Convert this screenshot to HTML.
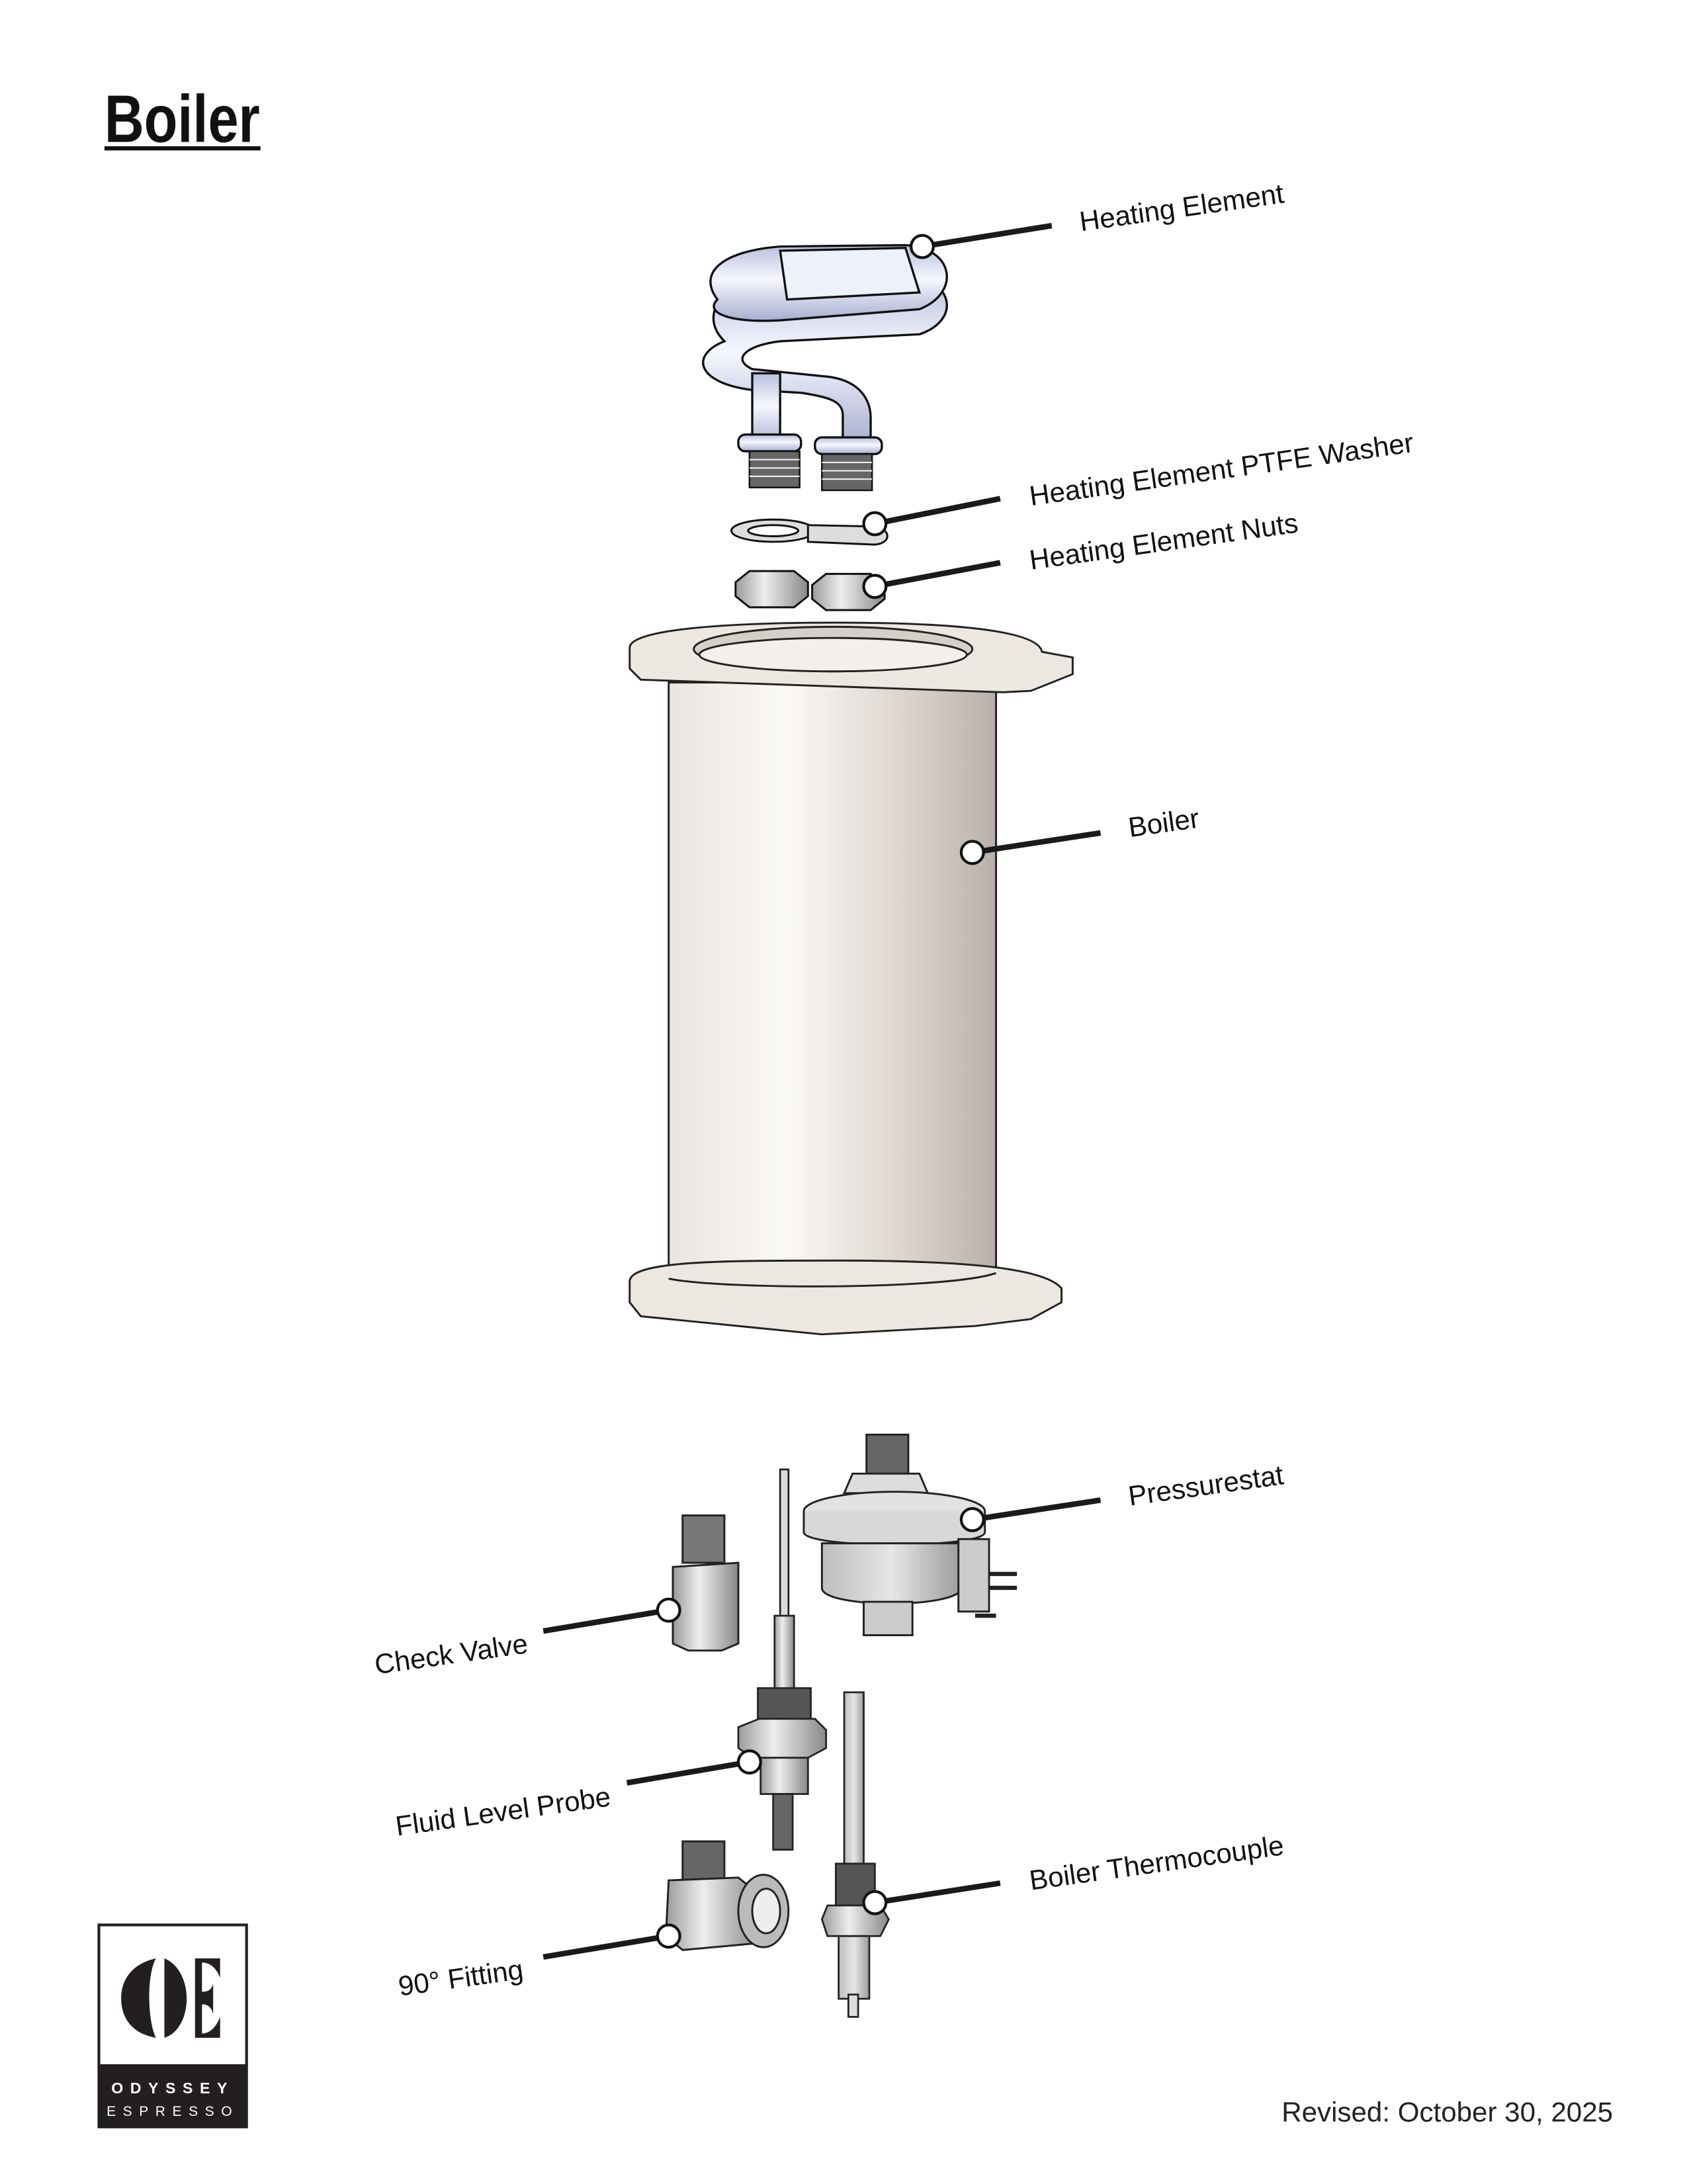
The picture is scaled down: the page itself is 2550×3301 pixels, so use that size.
<!DOCTYPE html>
<html><head><meta charset="utf-8"><style>
html,body{margin:0;padding:0;background:#fff}
svg{display:block}
text{font-family:"Liberation Sans",sans-serif}
</style></head><body>
<svg width="2550" height="3301" viewBox="0 0 1211 1568" preserveAspectRatio="none" xmlns="http://www.w3.org/2000/svg">
<defs>
<linearGradient id="cyl" x1="0" x2="1" y1="0" y2="0">
<stop offset="0" stop-color="#e9e4de"/><stop offset="0.35" stop-color="#fbf9f6"/><stop offset="0.7" stop-color="#ddd7d0"/><stop offset="1" stop-color="#b9b1a9"/></linearGradient>
<linearGradient id="tube" x1="0" x2="0" y1="0" y2="1">
<stop offset="0" stop-color="#b9bfdc"/><stop offset="0.45" stop-color="#f6f7ff"/><stop offset="1" stop-color="#a8aed0"/></linearGradient>
<linearGradient id="met" x1="0" x2="1" y1="0" y2="0">
<stop offset="0" stop-color="#9a9a9a"/><stop offset="0.4" stop-color="#eeeeee"/><stop offset="1" stop-color="#888"/></linearGradient>
<linearGradient id="grey" x1="0" x2="1">
<stop offset="0" stop-color="#bdbdbd"/><stop offset="0.5" stop-color="#e6e6e6"/><stop offset="1" stop-color="#9c9c9c"/></linearGradient>
</defs>

<text x="75" y="102" font-size="48" font-weight="bold" transform="translate(75 0) scale(0.82 1) translate(-75 0)" fill="#111">Boiler</text>
<rect x="75" y="105" width="112" height="3" fill="#111"/>

<g stroke="#111" stroke-width="1.6" fill="url(#tube)">
<path d="M520 245 C500 225 520 200 560 198 L650 198 C685 200 690 230 660 240 L560 245 C535 248 525 258 540 265 L590 270 C620 272 625 290 625 300 L625 320 L605 320 L605 298 C605 288 595 285 575 282 L540 280 C500 275 495 255 520 245 Z"/>
<path d="M515 215 C500 195 520 180 560 177 L650 176 C685 178 690 210 660 222 L560 230 C525 232 505 225 515 215 Z"/>
<path d="M560 180 L650 178 L660 210 L565 215 Z" fill="#eef0fb"/>
<rect x="540" y="268" width="20" height="52"/>
<rect x="530" y="312" width="45" height="12" rx="5"/>
<rect x="585" y="314" width="48" height="12" rx="5"/>
</g>
<g stroke="#111" stroke-width="1.2" fill="#666">
<rect x="538" y="324" width="36" height="26"/>
<rect x="590" y="326" width="36" height="26"/>
</g>
<g stroke="#eee" stroke-width="1">
<path d="M538 330h36M538 336h36M538 342h36M590 332h36M590 338h36M590 344h36"/>
</g>

<g stroke="#111" stroke-width="1.4" fill="#ddd">
<ellipse cx="555" cy="381" rx="30" ry="8"/>
<path d="M580 377 L628 378 C640 380 640 390 628 391 L580 389 Z"/>
<ellipse cx="555" cy="381" rx="18" ry="4" fill="#fff"/>
</g>
<g stroke="#111" stroke-width="1.4" fill="url(#met)">
<path d="M528 418 L538 410 L570 410 L580 418 L580 428 L570 436 L538 436 L528 428 Z"/>
<path d="M583 420 L593 412 L625 412 L635 420 L635 430 L625 438 L593 438 L583 430 Z"/>
</g>

<g stroke="#222" stroke-width="1.4">
<rect x="480" y="490" width="235" height="440" fill="url(#cyl)"/>
<path d="M452 465 C452 452 520 447 600 447 C680 447 745 452 748 468 L770 472 L770 484 L740 496 L720 497 L460 488 L452 480 Z" fill="#ece7e1"/>
<ellipse cx="598" cy="466" rx="100" ry="16" fill="#d5cfc8"/>
<ellipse cx="598" cy="470" rx="96" ry="12" fill="#f3f0ec"/>
<path d="M452 920 C452 905 520 905 600 905 C690 905 750 910 762 925 L762 935 L740 947 L700 952 L590 958 L460 945 L452 935 Z" fill="#ece7e1"/>
<path d="M480 918 C520 926 680 926 715 914" fill="none"/>
</g>

<g stroke="#222" stroke-width="1.4">
<rect x="622" y="1030" width="30" height="28" fill="#666"/>
<path d="M612 1058 L660 1058 L666 1072 L606 1072 Z" fill="#ddd"/>
<ellipse cx="642" cy="1085" rx="65" ry="14" fill="#e2e2e2"/>
<path d="M577 1085 L577 1100 C577 1112 707 1112 707 1100 L707 1085" fill="#d8d8d8"/>
<path d="M590 1108 L590 1140 C590 1155 690 1155 690 1140 L690 1108 Z" fill="url(#grey)"/>
<rect x="620" y="1150" width="35" height="24" fill="#ccc"/>
<rect x="688" y="1105" width="22" height="52" fill="#ccc"/>
<path d="M710 1130h20M710 1140h20M700 1160h15" stroke-width="3"/>
</g>

<g stroke="#222" stroke-width="1.4">
<rect x="490" y="1088" width="30" height="34" fill="#777"/>
<path d="M483 1125 L530 1122 L530 1180 L518 1185 L494 1185 L483 1180 Z" fill="url(#met)"/>
</g>

<g stroke="#222" stroke-width="1.3">
<rect x="560" y="1055" width="6" height="110" fill="#ddd"/>
<rect x="556" y="1160" width="14" height="55" fill="url(#met)"/>
<rect x="544" y="1212" width="38" height="26" fill="#555"/>
<path d="M530 1240 L545 1234 L585 1234 L593 1242 L593 1255 L580 1262 L540 1262 L530 1255 Z" fill="url(#met)"/>
<rect x="546" y="1262" width="34" height="26" fill="url(#met)"/>
<rect x="555" y="1288" width="14" height="40" fill="#666"/>
</g>

<g stroke="#222" stroke-width="1.4">
<rect x="490" y="1322" width="30" height="28" fill="#666"/>
<path d="M480 1350 L530 1348 L545 1360 L545 1395 L490 1400 L478 1390 Z" fill="url(#met)"/>
<ellipse cx="548" cy="1372" rx="18" ry="26" fill="#bbb"/>
<ellipse cx="550" cy="1372" rx="10" ry="16" fill="#eee"/>
</g>

<g stroke="#222" stroke-width="1.3">
<rect x="606" y="1215" width="14" height="125" fill="url(#grey)"/>
<rect x="600" y="1338" width="28" height="30" fill="#555"/>
<path d="M594 1368 L632 1368 L638 1378 L632 1390 L594 1390 L590 1378 Z" fill="url(#met)"/>
<rect x="602" y="1390" width="22" height="45" fill="url(#grey)"/>
<rect x="609" y="1432" width="7" height="16" fill="#ddd"/>
</g>

<g stroke="#1a1a1a" stroke-width="4" stroke-linecap="butt">
<line x1="662" y1="177" x2="755" y2="162"/>
<line x1="628" y1="376" x2="718" y2="358"/>
<line x1="628" y1="421" x2="718" y2="404"/>
<line x1="698" y1="612" x2="790" y2="598"/>
<line x1="698" y1="1091" x2="790" y2="1077"/>
<line x1="480" y1="1156" x2="390" y2="1171"/>
<line x1="538" y1="1265" x2="450" y2="1280"/>
<line x1="480" y1="1390" x2="390" y2="1405"/>
<line x1="628" y1="1366" x2="718" y2="1352"/>
</g>
<g fill="#fff" stroke="#111" stroke-width="2">
<circle cx="662" cy="177" r="8"/>
<circle cx="628" cy="376" r="8"/>
<circle cx="628" cy="421" r="8"/>
<circle cx="698" cy="612" r="8"/>
<circle cx="698" cy="1091" r="8"/>
<circle cx="480" cy="1156" r="8"/>
<circle cx="538" cy="1265" r="8"/>
<circle cx="480" cy="1390" r="8"/>
<circle cx="628" cy="1366" r="8"/>
</g>

<g font-size="20" fill="#111">
<text transform="translate(776 166) rotate(-8)">Heating Element</text>
<text transform="translate(740 363) rotate(-8)">Heating Element PTFE Washer</text>
<text transform="translate(740 409) rotate(-8)">Heating Element Nuts</text>
<text transform="translate(811 601) rotate(-8)">Boiler</text>
<text transform="translate(811 1081) rotate(-8)">Pressurestat</text>
<text transform="translate(270 1202) rotate(-8)">Check Valve</text>
<text transform="translate(285 1318) rotate(-8)">Fluid Level Probe</text>
<text transform="translate(287 1433) rotate(-8)">90° Fitting</text>
<text transform="translate(740 1357) rotate(-8)">Boiler Thermocouple</text>
</g>

<text x="920" y="1523" font-size="20" fill="#222">Revised: October 30, 2025</text>

<rect x="71" y="1382" width="106" height="145" fill="#fff" stroke="#222" stroke-width="2"/>
<rect x="71" y="1482" width="106" height="45" fill="#231f20"/>
<path d="M112 1406 C94 1410 87 1422 87 1435 C87 1448 94 1460 112 1463 C106 1452 105 1418 112 1406 Z" fill="#231f20"/>
<path d="M118 1406 C128 1410 134 1422 134 1435 C134 1448 128 1460 118 1463 Z" fill="#231f20"/>
<path d="M140 1406 L158 1406 L158 1420 C155 1412 150 1409 145 1409 L145 1430 C150 1430 152 1428 153 1424 L153 1446 C152 1442 150 1439 145 1439 L145 1460 C150 1460 155 1456 158 1448 L158 1463 L140 1463 Z" fill="#231f20"/>
<text x="124" y="1503" font-size="11" font-weight="bold" fill="#fff" text-anchor="middle" letter-spacing="5">ODYSSEY</text>
<text x="124" y="1519" font-size="10" fill="#fff" text-anchor="middle" letter-spacing="5">ESPRESSO</text>
</svg>
</body></html>
